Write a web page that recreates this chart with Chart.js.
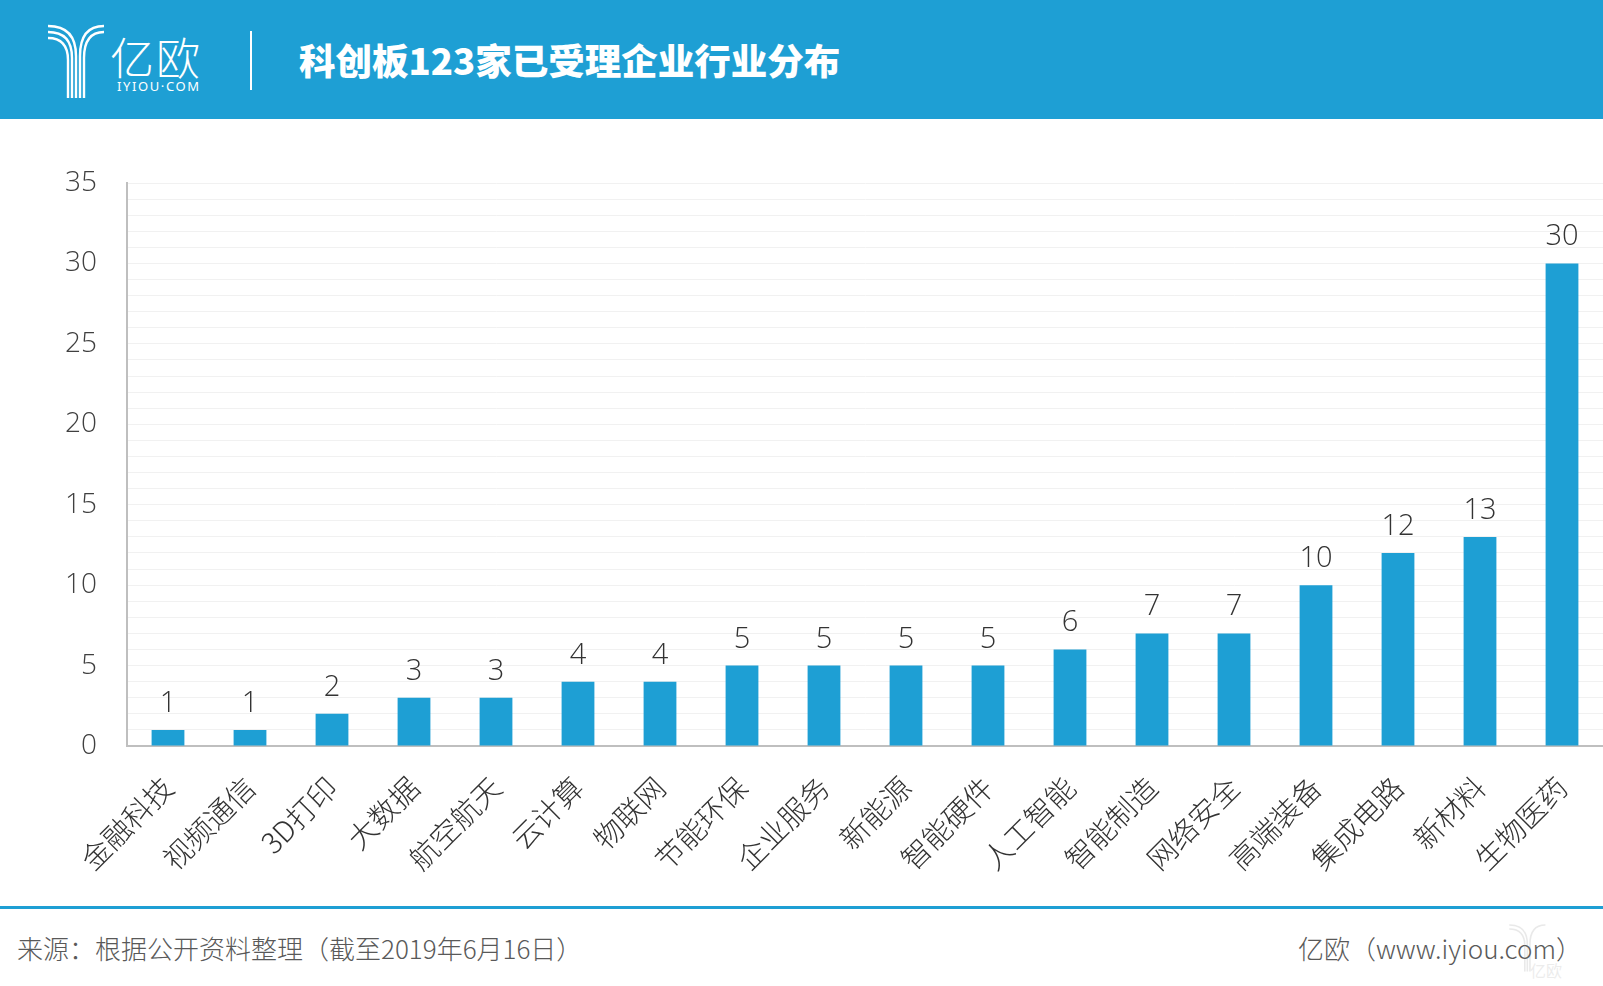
<!DOCTYPE html>
<html lang="zh-CN">
<head>
<meta charset="utf-8">
<title>科创板123家已受理企业行业分布</title>
<script src="https://cdn.jsdelivr.net/npm/chart.js@4.4.1/dist/chart.umd.min.js"></script>
<style>
    html, body { margin: 0; padding: 0; background: #fff; }
    body { width: 1603px; height: 986px; position: relative; overflow: hidden; font-family: "Noto Sans CJK SC", "Noto Sans", sans-serif; }
    .header { position: absolute; left: 0; top: 0; width: 1603px; height: 119px; background: #1e9fd4; }
    .logo-icon { position: absolute; left: 46px; top: 22px; }
    .logo-name { position: absolute; left: 110px; top: 24px; color: #fff; font-size: 44px; font-weight: 300; letter-spacing: 2px; }
    .logo-sub { position: absolute; left: 117px; top: 77px; color: #fff; font-size: 13px; letter-spacing: 1.6px; font-family: "Noto Sans", sans-serif; }
    .divider { position: absolute; left: 250px; top: 31px; width: 2px; height: 59px; background: #fff; }
    .title { position: absolute; left: 299px; top: 35px; color: #fff; font-size: 36.5px; font-weight: 900; line-height: 50px; }
    .chart-box { position: absolute; left: 0; top: 119px; width: 1603px; height: 785px; }
    .footer-line { position: absolute; left: 0; top: 906px; width: 1603px; height: 3px; background: #1e9fd4; }
    .source { position: absolute; left: 17px; top: 930px; color: #595959; font-size: 26px; font-weight: 300; line-height: 36px; }
    .site { position: absolute; right: 21px; top: 930px; color: #595959; font-size: 26px; font-weight: 300; line-height: 36px; }
    .watermark { position: absolute; left: 1508px; top: 912px; opacity: 0.18; }
    .watermark span { position: absolute; left: 22px; top: 46px; font-size: 16px; color: #999; white-space: nowrap; }
</style>
</head>
<body>
<div class="header">
    <svg class="logo-icon" width="62" height="76" viewBox="0 0 62 76" fill="none" stroke="#fff" stroke-width="2.4">
        <path d="M2 4 Q30 4 30 34 L30 76"/>
        <path d="M2 10 Q26 10 26 36 L26 76"/>
        <path d="M2 16 Q22 16 22 38 L22 76"/>
        <path d="M58 4 Q34 4 34 34 L34 76"/>
        <path d="M58 10 Q38 10 38 36 L38 76"/>
    </svg>
    <div class="logo-name">亿欧</div>
    <div class="logo-sub">IYIOU·COM</div>
    <div class="divider"></div>
    <div class="title">科创板123家已受理企业行业分布</div>
</div>

<div class="chart-box"><canvas id="industryChart"></canvas></div>

<div class="footer-line"></div>
<div class="source">来源：根据公开资料整理（截至2019年6月16日）</div>
<div class="site">亿欧（www.iyiou.com）</div>
<div class="watermark">
    <svg width="40" height="70" viewBox="0 0 62 76" fill="none" stroke="#888" stroke-width="2.4">
        <path d="M2 4 Q30 4 30 34 L30 76"/>
        <path d="M2 10 Q26 10 26 36 L26 76"/>
        <path d="M58 4 Q34 4 34 34 L34 76"/>
    </svg>
    <span>亿欧</span>
</div>

<script>
// 行业分类与企业数量
const categories = ['金融科技', '视频通信', '3D打印', '大数据', '航空航天', '云计算', '物联网', '节能环保', '企业服务',
    '新能源', '智能硬件', '人工智能', '智能制造', '网络安全', '高端装备', '集成电路', '新材料', '生物医药'];
const companyCounts = [1, 1, 2, 3, 3, 4, 4, 5, 5, 5, 5, 6, 7, 7, 10, 12, 13, 30];
const yMax = 35;
const yLabelStep = 5;

const BLUE = '#1e9fd4';
const LATIN_FONT = '"Segoe UI", "Open Sans", "Noto Sans", sans-serif';
const CJK_FONT = '"Noto Sans CJK SC", "Noto Sans", sans-serif';

// 柱顶数值
const valueLabels = {
    id: 'valueLabels',
    afterDatasetsDraw(chart) {
        const ctx = chart.ctx;
        const meta = chart.getDatasetMeta(0);
        ctx.save();
        ctx.fillStyle = '#333';
        ctx.font = '300 29px ' + LATIN_FONT;
        ctx.textAlign = 'center';
        ctx.textBaseline = 'alphabetic';
        meta.data.forEach((bar, i) => {
            ctx.fillText(String(companyCounts[i]), bar.x, bar.y - 18);
        });
        ctx.restore();
    }
};

const ctx = document.getElementById('industryChart').getContext('2d');
new Chart(ctx, {
    type: 'bar',
    data: {
        labels: categories,
        datasets: [{
            data: companyCounts,
            backgroundColor: BLUE,
            borderWidth: 0,
            barPercentage: 0.4,
            categoryPercentage: 1
        }]
    },
    options: {
        responsive: true,
        maintainAspectRatio: false,
        animation: false,
        layout: { padding: { top: 64, left: 0, right: 0, bottom: 0 } },
        plugins: {
            legend: { display: false },
            tooltip: { enabled: false }
        },
        scales: {
            x: {
                afterFit(scale) {
                    scale.height = 158;
                    scale.paddingLeft = 0;
                    scale.paddingRight = 0;
                },
                grid: { display: false, drawTicks: false },
                border: { display: true, color: '#bfbfbf', width: 2 },
                ticks: {
                    autoSkip: false,
                    minRotation: 45,
                    maxRotation: 45,
                    padding: 24,
                    color: '#333',
                    font: { family: CJK_FONT, size: 29, weight: '300' }
                }
            },
            y: {
                min: 0,
                max: yMax,
                afterFit(scale) {
                    scale.width = 127;
                    scale.paddingTop = 0;
                    scale.paddingBottom = 0;
                },
                grid: { color: '#f1f1f1', lineWidth: 1, drawTicks: false },
                border: { display: true, color: '#bfbfbf', width: 2 },
                ticks: {
                    stepSize: 1,
                    autoSkip: false,
                    maxTicksLimit: 100,
                    padding: 30,
                    color: '#404040',
                    font: { family: LATIN_FONT, size: 28, weight: '300' },
                    callback: (value) => (value % yLabelStep === 0 ? value : '')
                }
            }
        }
    },
    plugins: [valueLabels]
});
</script>
</body>
</html>
